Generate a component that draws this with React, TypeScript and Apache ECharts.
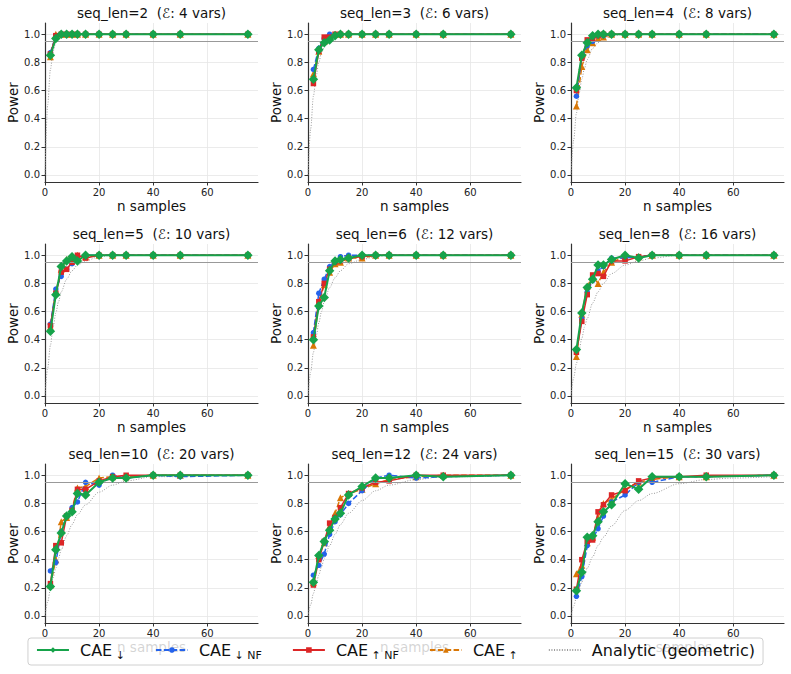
import React, { useEffect, useRef } from "react";
import * as echarts from "echarts";

// Sample counts evaluated in every panel
const N_SAMPLES = [2, 4, 6, 8, 10, 12, 15, 20, 25, 30, 40, 50, 75];
const SEQ_LENS = [2, 3, 4, 5, 6, 8, 10, 12, 15];
const VAR_COUNTS = [4, 6, 8, 10, 12, 16, 20, 24, 30];

// Power per method, one row per seq_len panel
const CAE_DOWN = [
  [0.85, 0.97, 1, 1, 1, 1, 1, 1, 1, 1, 1, 1, 1],
  [0.68, 0.89, 0.94, 0.96, 0.99, 1, 1, 1, 1, 1, 1, 1, 1],
  [0.62, 0.85, 0.94, 0.99, 1, 1, 1, 1, 1, 1, 1, 1, 1],
  [0.46, 0.72, 0.92, 0.96, 0.99, 0.96, 1, 1, 1, 1, 1, 1, 1],
  [0.4, 0.64, 0.7, 0.89, 0.96, 0.97, 0.98, 1, 1, 1, 1, 1, 1],
  [0.33, 0.59, 0.77, 0.83, 0.93, 0.93, 0.97, 1, 0.98, 1, 1, 1, 1],
  [0.21, 0.47, 0.59, 0.71, 0.74, 0.87, 0.86, 0.95, 0.98, 0.98, 1, 1, 1],
  [0.24, 0.43, 0.53, 0.61, 0.69, 0.73, 0.86, 0.92, 0.98, 0.98, 1, 0.99, 1],
  [0.18, 0.31, 0.56, 0.57, 0.67, 0.74, 0.79, 0.94, 0.9, 0.99, 0.99, 0.99, 1],
];
const CAE_DOWN_NF = [
  [0.87, 0.99, 1, 1, 1, 1, 1, 1, 1, 1, 1, 1, 1],
  [0.75, 0.9, 0.97, 1, 0.99, 1, 1, 1, 1, 1, 1, 1, 1],
  [0.56, 0.83, 0.92, 0.95, 0.99, 0.99, 1, 1, 1, 1, 1, 1, 1],
  [0.51, 0.76, 0.85, 0.9, 0.94, 0.99, 1, 1, 1, 1, 1, 1, 1],
  [0.45, 0.73, 0.83, 0.92, 0.96, 0.99, 1, 1, 1, 1, 1, 1, 1],
  [0.32, 0.55, 0.74, 0.82, 0.89, 0.92, 0.98, 0.98, 0.99, 1, 1, 1, 1],
  [0.32, 0.38, 0.6, 0.71, 0.77, 0.81, 0.95, 0.93, 1, 0.98, 1, 0.99, 1],
  [0.29, 0.36, 0.44, 0.58, 0.67, 0.72, 0.8, 0.89, 0.98, 1, 0.98, 0.99, 1],
  [0.14, 0.28, 0.5, 0.55, 0.62, 0.71, 0.81, 0.86, 0.95, 0.95, 0.99, 0.99, 1],
];
const CAE_UP_NF = [
  [0.86, 0.99, 1, 1, 1, 1, 1, 1, 1, 1, 1, 1, 1],
  [0.65, 0.88, 0.98, 0.98, 1, 1, 1, 1, 1, 1, 1, 1, 1],
  [0.6, 0.83, 0.96, 0.97, 0.99, 1, 1, 1, 1, 1, 1, 1, 1],
  [0.5, 0.73, 0.88, 0.9, 0.95, 1, 0.98, 1, 1, 1, 1, 1, 1],
  [0.42, 0.67, 0.8, 0.9, 0.95, 0.96, 0.98, 0.99, 1, 1, 1, 1, 1],
  [0.31, 0.53, 0.72, 0.86, 0.87, 0.85, 0.96, 0.96, 0.99, 1, 1, 1, 1],
  [0.23, 0.5, 0.52, 0.71, 0.75, 0.9, 0.9, 0.96, 0.99, 1, 1, 1, 1],
  [0.22, 0.4, 0.53, 0.66, 0.7, 0.77, 0.87, 0.91, 0.95, 0.96, 1, 1, 1],
  [0.19, 0.4, 0.53, 0.54, 0.74, 0.79, 0.86, 0.89, 0.96, 0.98, 0.99, 1, 1],
];
const CAE_UP = [
  [0.84, 1, 1, 1, 1, 1, 1, 1, 1, 1, 1, 1, 1],
  [0.72, 0.88, 0.95, 0.99, 1, 1, 1, 1, 1, 1, 1, 1, 1],
  [0.49, 0.77, 0.89, 0.94, 0.97, 0.98, 1, 1, 1, 1, 1, 1, 1],
  [0.49, 0.74, 0.9, 0.97, 0.99, 1, 0.99, 1, 1, 1, 1, 1, 1],
  [0.36, 0.66, 0.79, 0.88, 0.94, 0.95, 0.98, 0.98, 1, 1, 1, 1, 1],
  [0.28, 0.58, 0.78, 0.85, 0.8, 0.88, 0.95, 0.99, 0.99, 1, 1, 1, 1],
  [0.22, 0.4, 0.67, 0.7, 0.76, 0.91, 0.92, 0.98, 0.99, 0.99, 1, 1, 1],
  [0.24, 0.43, 0.52, 0.64, 0.73, 0.84, 0.87, 0.9, 0.94, 0.97, 0.99, 1, 1],
  [0.3, 0.36, 0.52, 0.56, 0.7, 0.8, 0.83, 0.9, 0.95, 0.97, 0.99, 0.99, 1],
];

// Analytic (geometric) power curve, sampled at these n
const ANALYTIC_N = [0, 1, 2, 3, 4, 5, 6, 8, 10, 12, 15, 20, 25, 30, 40, 50, 60, 75];
const ANALYTIC = [
  [0, 0.5, 0.75, 0.88, 0.94, 0.97, 0.98, 1, 1, 1, 1, 1, 1, 1, 1, 1, 1, 1],
  [0, 0.33, 0.56, 0.7, 0.8, 0.87, 0.91, 0.96, 0.98, 0.99, 1, 1, 1, 1, 1, 1, 1, 1],
  [0, 0.25, 0.44, 0.58, 0.68, 0.76, 0.82, 0.9, 0.94, 0.97, 0.99, 1, 1, 1, 1, 1, 1, 1],
  [0, 0.2, 0.36, 0.49, 0.59, 0.67, 0.74, 0.83, 0.89, 0.93, 0.96, 0.99, 1, 1, 1, 1, 1, 1],
  [0, 0.17, 0.31, 0.42, 0.52, 0.6, 0.67, 0.77, 0.84, 0.89, 0.94, 0.97, 0.99, 1, 1, 1, 1, 1],
  [0, 0.13, 0.23, 0.33, 0.41, 0.49, 0.55, 0.66, 0.74, 0.8, 0.87, 0.93, 0.96, 0.98, 1, 1, 1, 1],
  [0, 0.1, 0.19, 0.27, 0.34, 0.41, 0.47, 0.57, 0.65, 0.72, 0.79, 0.88, 0.93, 0.96, 0.99, 0.99, 1, 1],
  [0, 0.08, 0.16, 0.23, 0.29, 0.35, 0.41, 0.5, 0.58, 0.65, 0.73, 0.82, 0.89, 0.93, 0.97, 0.99, 0.99, 1],
  [0, 0.07, 0.13, 0.19, 0.24, 0.29, 0.34, 0.42, 0.5, 0.56, 0.64, 0.75, 0.82, 0.87, 0.94, 0.97, 0.98, 0.99],
];

const TARGET_POWER = 0.95;
const Y_TICKS = [0, 0.2, 0.4, 0.6, 0.8, 1.0];
const X_TICKS = [0, 20, 40, 60];

const FONT = "DejaVu Sans";
const COL_LEFT = [45, 308, 571];
const ROW_TOP = [23, 244, 464];
const GRID_W = 213;
const GRID_H = 159;

const METHODS = [
  { name: "CAE↓", data: CAE_DOWN, color: "#16a34a", symbol: "diamond", size: 9.5, width: 2, dash: "solid", z: 6 },
  { name: "CAE↓NF", data: CAE_DOWN_NF, color: "#2563eb", symbol: "circle", size: 5.5, width: 1.5, dash: [5.5, 2.4], z: 4 },
  { name: "CAE↑NF", data: CAE_UP_NF, color: "#dc2626", symbol: "rect", size: 5.5, width: 1.5, dash: "solid", z: 4 },
  { name: "CAE↑", data: CAE_UP, color: "#d97706", symbol: "triangle", size: 7, width: 1.5, dash: [5.5, 2.4], z: 3 },
];
const ANALYTIC_NAME = "Analytic (geometric)";

const LEGEND_LABELS: Record<string, string> = {
  "CAE↓": "{m|CAE}{s| ↓}",
  "CAE↓NF": "{m|CAE}{s| ↓ NF}",
  "CAE↑NF": "{m|CAE}{s| ↑ NF}",
  "CAE↑": "{m|CAE}{s| ↑}",
  [ANALYTIC_NAME]: "{m|Analytic (geometric)}",
};

function buildOption() {
  const grids: any[] = [];
  const xAxes: any[] = [];
  const yAxes: any[] = [];
  const titles: any[] = [];
  const series: any[] = [];

  SEQ_LENS.forEach((s, i) => {
    const col = i % 3;
    const row = Math.floor(i / 3);
    const left = COL_LEFT[col];
    const top = ROW_TOP[row];
    grids.push({ left, top, width: GRID_W, height: GRID_H, containLabel: false });
    titles.push({
      // non-breaking space keeps the double gap before the bracket
      text: `seq_len=${s} \u00a0(ℰ: ${VAR_COUNTS[i]} vars)`,
      left: left + GRID_W / 2,
      top: top - 17,
      textAlign: "center",
      padding: 0,
      textStyle: { fontFamily: FONT, fontSize: 13.5, fontWeight: "normal", color: "#111" },
    });
    const axisCommon = {
      axisLine: { show: true, onZero: false, lineStyle: { color: "#333", width: 1.2 } },
      axisTick: { show: true, length: 3.5, lineStyle: { color: "#333", width: 1 } },
      splitLine: { show: true, lineStyle: { color: "#e6e6e6", width: 0.8 } },
      nameTextStyle: { fontFamily: FONT, fontSize: 13.5, color: "#111" },
    };
    xAxes.push({
      ...axisCommon,
      type: "value",
      gridIndex: i,
      min: 0,
      max: 78.75,
      name: "n samples",
      nameLocation: "middle",
      nameGap: 17,
      axisTick: { ...axisCommon.axisTick, customValues: X_TICKS },
      axisLabel: {
        customValues: X_TICKS,
        fontFamily: FONT,
        fontSize: 10,
        color: "#222",
        margin: 5,
      },
    });
    yAxes.push({
      ...axisCommon,
      type: "value",
      gridIndex: i,
      min: -0.05,
      max: 1.08,
      name: "Power",
      nameLocation: "middle",
      nameGap: 24,
      axisTick: { ...axisCommon.axisTick, customValues: Y_TICKS },
      axisLabel: {
        customValues: Y_TICKS,
        formatter: (v: number) => v.toFixed(1),
        fontFamily: FONT,
        fontSize: 10,
        color: "#222",
        margin: 5,
      },
    });

    series.push({
      type: "line",
      name: ANALYTIC_NAME,
      xAxisIndex: i,
      yAxisIndex: i,
      data: ANALYTIC_N.map((n, j) => [n, ANALYTIC[i][j]]),
      smooth: 0.3,
      smoothMonotone: "x",
      symbol: "none",
      z: 2,
      color: "#9a9a9a",
      lineStyle: { color: "#9a9a9a", width: 1, type: [1, 1.6] },
      markLine: {
        silent: true,
        symbol: "none",
        label: { show: false },
        lineStyle: { color: "#999", width: 1.1, type: "solid" },
        data: [{ yAxis: TARGET_POWER }],
      },
    });

    METHODS.forEach((m) => {
      series.push({
        type: "line",
        name: m.name,
        xAxisIndex: i,
        yAxisIndex: i,
        data: N_SAMPLES.map((n, j) => [n, m.data[i][j]]),
        symbol: m.symbol,
        symbolSize: m.size,
        showAllSymbol: true,
        z: m.z,
        color: m.color,
        itemStyle: { color: m.color },
        lineStyle: { color: m.color, width: m.width, type: m.dash },
      });
    });
  });

  return {
    animation: false,
    backgroundColor: "#ffffff",
    title: titles,
    grid: grids,
    xAxis: xAxes,
    yAxis: yAxes,
    series,
    legend: {
      data: [
        ...METHODS.map((m) => m.name),
        { name: ANALYTIC_NAME, itemStyle: { opacity: 0 } },
      ],
      left: "center",
      top: 638,
      orient: "horizontal",
      itemWidth: 32,
      itemHeight: 7,
      itemGap: 30,
      padding: [4, 8, 4, 8],
      backgroundColor: "rgba(255,255,255,0.82)",
      borderColor: "#d0d0d0",
      borderWidth: 1,
      borderRadius: 3,
      formatter: (name: string) => LEGEND_LABELS[name] ?? name,
      textStyle: {
        fontFamily: FONT,
        color: "#111",
        rich: {
          m: { fontFamily: FONT, fontSize: 16, lineHeight: 22, color: "#111", padding: [0, 0, 0, 6] },
          s: { fontFamily: FONT, fontSize: 11, lineHeight: 12, color: "#111", verticalAlign: "bottom" },
        },
      },
    },
  };
}

export default function App() {
  const ref = useRef<HTMLDivElement>(null);
  useEffect(() => {
    if (!ref.current) return;
    const chart = echarts.init(ref.current, null, { renderer: "svg" });
    chart.setOption(buildOption() as any);
    return () => chart.dispose();
  }, []);
  return (
    <div
      ref={ref}
      style={{ position: "absolute", left: 0, top: 0, width: 791, height: 674, background: "#fff" }}
    />
  );
}
